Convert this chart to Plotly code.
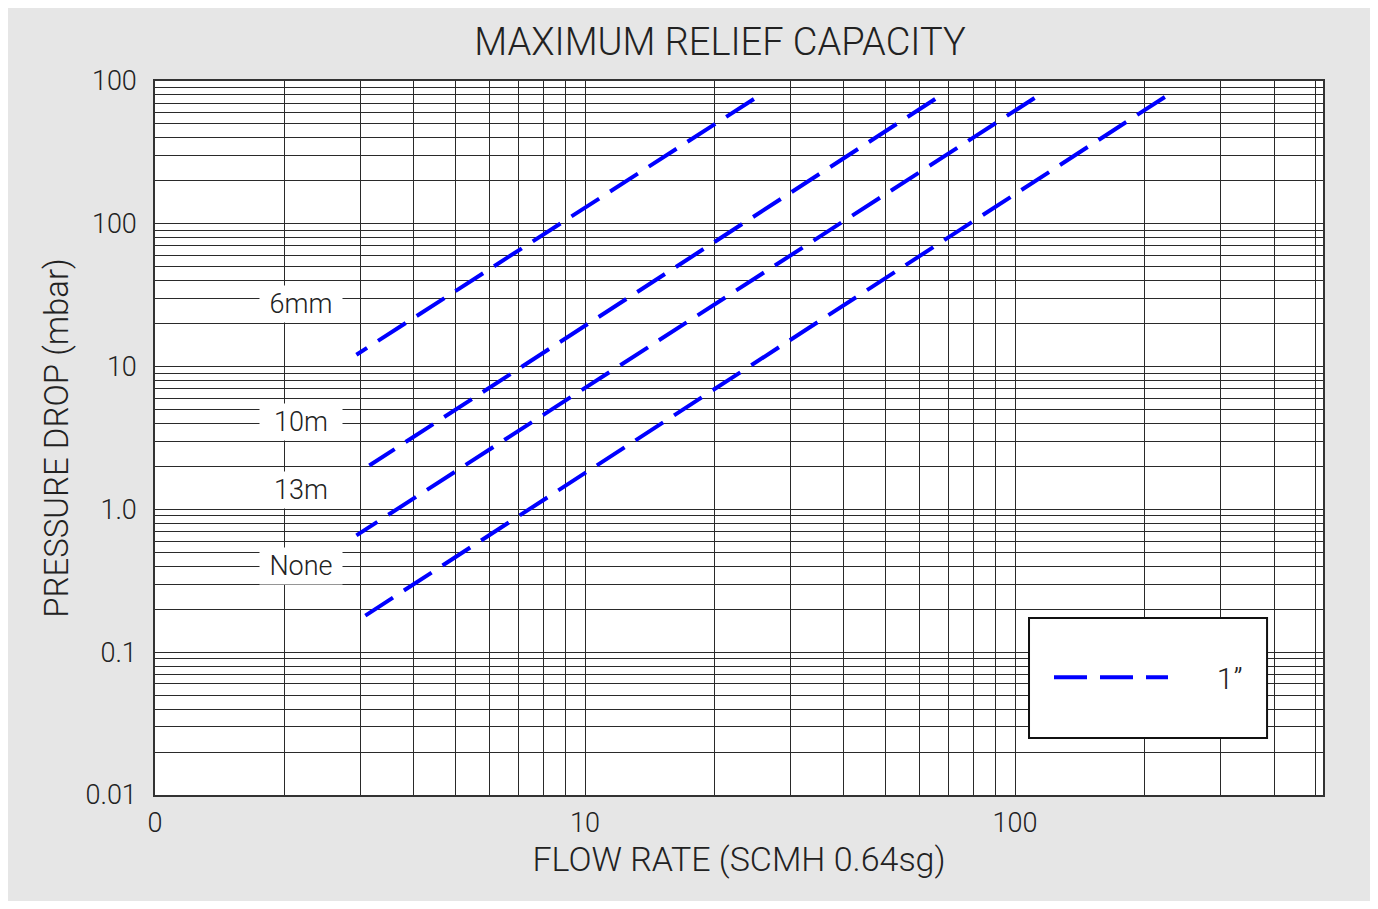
import numpy as np
import plotly.graph_objects as go

# ---- data ----
series_names = ["6mm", "10m", "13m", "None"]
legend_name = "1\u201d"

# each curve: endpoints (top-right first, then bottom-left)
flow_6mm = [24.7, 2.94]
dp_6mm = [748, 12.1]
flow_10m = [65.2, 3.15]
dp_10m = [748, 2.03]
flow_13m = [111, 2.94]
dp_13m = [760, 0.658]
flow_none = [223, 2.99]
dp_none = [773, 0.170]

# label anchor values (flow, pressure drop)
label_flow = [2.18, 2.18, 2.18, 2.18]
label_dp = [27.5, 4.1, 1.36, 0.40]

x_tick_vals = [1, 10, 100]
x_tick_text = ["0", "10", "100"]
y_tick_vals = [0.01, 0.1, 1, 10, 100, 1000]
y_tick_text = ["0.01", "0.1", "1.0", "10", "100", "100"]

FONT = "Roboto"
W8 = 300
TXT = "#222222"
BLUE = "#0000ff"

flows = [flow_6mm, flow_10m, flow_13m, flow_none]
dps = [dp_6mm, dp_10m, dp_13m, dp_none]

fig = go.Figure()
for i, (fx, dy) in enumerate(zip(flows, dps)):
    fig.add_trace(go.Scatter(
        x=fx, y=dy, mode="lines",
        name="\u00a0" * 6 + legend_name, legendgroup="1in",
        showlegend=(i == 0),
        line=dict(color=BLUE, width=4, dash="33px,13px"),
        hoverinfo="skip",
    ))

# gridlines at every 1..9 x 10^k
def log_grid(lo_exp, hi_exp):
    vals = []
    for e in range(lo_exp, hi_exp + 1):
        for m in range(1, 10):
            vals.append(m * 10.0 ** e)
    return vals

xg = [v for v in log_grid(0, 2) if v <= 520]
yg = [v for v in log_grid(-2, 3) if v <= 1000]

def label_for(v, vals, texts):
    for tv, tt in zip(vals, texts):
        if abs(v - tv) / tv < 1e-9:
            return tt
    return ""

xt = [label_for(v, x_tick_vals, x_tick_text) for v in xg]
yt = [label_for(v, y_tick_vals, y_tick_text) for v in yg]

axis_common = dict(
    type="log", showgrid=True, gridcolor="#2a2a2a", gridwidth=1,
    zeroline=False, showline=True, mirror=True, linecolor="#333333",
    linewidth=1.5, ticks="",
    tickfont=dict(family=FONT, size=27, color=TXT, weight=W8),
)

fig.update_xaxes(
    **axis_common,
    range=[0, np.log10(520)],
    tickmode="array", tickvals=xg, ticktext=xt,
    ticklabelstandoff=3,
    title=dict(text="FLOW RATE (SCMH 0.64sg)",
               font=dict(family=FONT, size=34, color=TXT, weight=W8),
               standoff=2),
)
fig.update_yaxes(
    **axis_common,
    range=[-2, 3],
    tickmode="array", tickvals=yg, ticktext=yt,
    ticklabelstandoff=11,
    title=dict(text="PRESSURE DROP (mbar)",
               font=dict(family=FONT, size=33, color=TXT, weight=W8),
               standoff=7),
)

for name, lx, ly in zip(series_names, label_flow, label_dp):
    fig.add_annotation(
        x=np.log10(lx), y=np.log10(ly), xref="x", yref="y",
        text=name, showarrow=False, bgcolor="white",
        width=80, height=34,
        font=dict(family=FONT, size=27, color=TXT, weight=W8),
    )

# legend frame
fig.add_shape(type="rect", xref="paper", yref="paper",
              x0=0.7483, x1=0.9521, y0=0.0798, y1=0.2479,
              line=dict(color="#111111", width=2), fillcolor="white",
              layer="above")

fig.update_layout(
    width=1362, height=893,
    margin=dict(l=147, r=47, t=73, b=106),
    paper_bgcolor="#e6e6e6", plot_bgcolor="white",
    title=dict(text="MAXIMUM RELIEF CAPACITY",
               font=dict(family=FONT, size=38, color=TXT, weight=W8),
               x=712 / 1362, xref="container", xanchor="center",
               y=1 - 34 / 893, yref="container", yanchor="middle"),
    legend=dict(x=0.7654, y=0.165, xanchor="left", yanchor="middle",
                bgcolor="rgba(0,0,0,0)", borderwidth=0,
                itemwidth=114,
                font=dict(family=FONT, size=30, color=TXT, weight=W8)),
    showlegend=True,
)

fig.write_html("out.html")
